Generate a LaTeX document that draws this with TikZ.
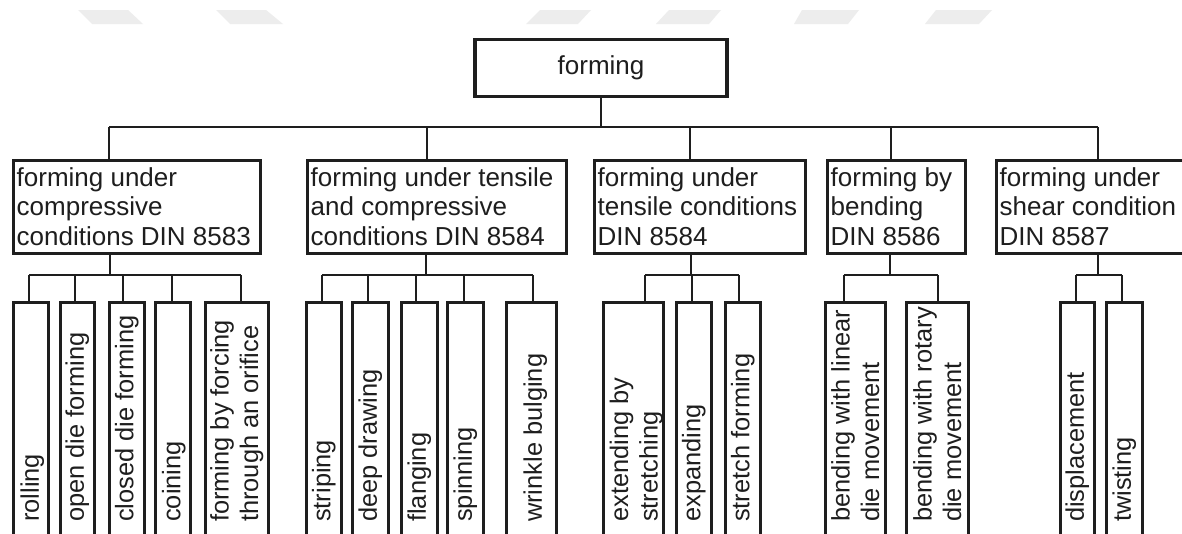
\documentclass[tikz,border=0pt]{standalone}
\usepackage{fontspec}
\setmainfont{Liberation Sans}
\usetikzlibrary{calc}
\definecolor{ink}{HTML}{1E1E1E}
\definecolor{wm}{HTML}{EDEDED}
\begin{document}
\begin{tikzpicture}[x=1pt,y=-1pt,
  box/.style={draw=ink,line width=3.7pt,inner sep=0pt,fill=white},
  conn/.style={draw=ink,line width=2.3pt},
  txt/.style={inner sep=0pt,align=left,font=\fontsize{26}{29.5}\selectfont,text=ink},
  midbox/.style={box,anchor=north west,minimum height=93pt},
  midtxt/.style={txt,anchor=north west},
  lbox/.style={box,anchor=north west,minimum height=250pt},
  ltxt/.style={txt,font=\fontsize{25.4}{29.5}\selectfont,rotate=90,anchor=west},
]
\useasboundingbox (0,0) rectangle (1182,533);
\clip (0,0) rectangle (1182,533);
\fill[white] (0,0) rectangle (1182,533);

% faint watermark shapes
\fill[wm] (78,10) -- (128,10) -- (143,24) -- (92,24) -- cycle;
\fill[wm] (216,10) -- (266,10) -- (283,24) -- (230,24) -- cycle;
\fill[wm] (540,10) -- (591,10) -- (578,24) -- (526,24) -- cycle;
\fill[wm] (669,10) -- (721,10) -- (709,24) -- (656,24) -- cycle;
\fill[wm] (802,10) -- (859,10) -- (848,24) -- (794,24) -- cycle;
\fill[wm] (936,10) -- (992,10) -- (979,24) -- (925,24) -- cycle;

% root
\node[box,minimum width=252pt,minimum height=57pt,font=\fontsize{26}{29.5}\selectfont,text=ink] (top) at (601,68) {forming};

% level 2 boxes
\node[midbox,minimum width=247pt] (b1) at (11.5,158.5) {};
\node[midbox,minimum width=259pt] (b2) at (305.5,158.5) {};
\node[midbox,minimum width=211pt] (b3) at (592.5,158.5) {};
\node[midbox,minimum width=138pt] (b4) at (825.5,158.5) {};
\node[midbox,minimum width=220pt] (b5) at (994.5,158.5) {};

\node[midtxt] (t1) at ($(b1.north west)+(5,8.5)$) {forming under\\compressive\\conditions DIN 8583};
\node[midtxt] (t2) at ($(b2.north west)+(5,8.5)$) {forming under tensile\\and compressive\\conditions DIN 8584};
\node[midtxt] (t3) at ($(b3.north west)+(5,8.5)$) {forming under\\tensile conditions\\DIN 8584};
\node[midtxt] (t4) at ($(b4.north west)+(5,8.5)$) {forming by\\bending\\DIN 8586};
\node[midtxt] (t5) at ($(b5.north west)+(5,8.5)$) {forming under\\shear condition\\DIN 8587};

% leaves
\node[lbox,minimum width=35pt] (l11) at (11.5,300.5) {};
\node[lbox,minimum width=34pt] (l12) at (58.5,300.5) {};
\node[lbox,minimum width=35pt] (l13) at (107.5,300.5) {};
\node[lbox,minimum width=35pt] (l14) at (153.5,300.5) {};
\node[lbox,minimum width=63pt] (l15) at (203.5,300.5) {};
\node[lbox,minimum width=35pt] (l21) at (304.5,300.5) {};
\node[lbox,minimum width=36pt] (l22) at (350.5,300.5) {};
\node[lbox,minimum width=36pt] (l23) at (399.5,300.5) {};
\node[lbox,minimum width=36pt] (l24) at (445.5,300.5) {};
\node[lbox,minimum width=50pt] (l25) at (504.5,300.5) {};
\node[lbox,minimum width=60pt] (l31) at (601.5,300.5) {};
\node[lbox,minimum width=35pt] (l32) at (674.5,300.5) {};
\node[lbox,minimum width=35pt] (l33) at (723.5,300.5) {};
\node[lbox,minimum width=60pt] (l41) at (823.5,300.5) {};
\node[lbox,minimum width=62pt] (l42) at (904.5,300.5) {};
\node[lbox,minimum width=34pt] (l51) at (1058.5,300.5) {};
\node[lbox,minimum width=36pt] (l52) at (1104.5,300.5) {};

\node[ltxt] (s11) at ($(l11.north)+(1.5,221.5)$) {rolling};
\node[ltxt] (s12) at ($(l12.north)+(0,221.5)$) {open die forming};
\node[ltxt] (s13) at ($(l13.north)+(0,221.5)$) {closed die forming};
\node[ltxt] (s14) at ($(l14.north)+(1,221.5)$) {coining};
\node[ltxt] (s15) at ($(l15.north)+(0,221.5)$) {forming by forcing\\through an orifice};
\node[ltxt] (s21) at ($(l21.north)+(0,221.5)$) {striping};
\node[ltxt] (s22) at ($(l22.north)+(0,221.5)$) {deep drawing};
\node[ltxt] (s23) at ($(l23.north)+(0,221.5)$) {flanging};
\node[ltxt] (s24) at ($(l24.north)+(0,221.5)$) {spinning};
\node[ltxt] (s25) at ($(l25.north)+(4,221.5)$) {wrinkle bulging};
\node[ltxt] (s31) at ($(l31.north)+(3,221.5)$) {extending by\\stretching};
\node[ltxt] (s32) at ($(l32.north)+(0,221.5)$) {expanding};
\node[ltxt] (s33) at ($(l33.north)+(0,221.5)$) {stretch forming};
\node[ltxt] (s41) at ($(l41.north)+(0,221.5)$) {bending with linear\\die movement};
\node[ltxt] (s42) at ($(l42.north)+(0,221.5)$) {bending with rotary\\die movement};
\node[ltxt] (s51) at ($(l51.north)+(0,221.5)$) {displacement};
\node[ltxt] (s52) at ($(l52.north)+(0,221.5)$) {twisting};

% level 1 connectors
\coordinate (j0) at (601,127);
\coordinate (u1) at (109,127);
\coordinate (u2) at (427,127);
\coordinate (u3) at (690,127);
\coordinate (u4) at (891,127);
\coordinate (u5) at (1098,127);
\draw[conn] (top.south) -- (j0);
\draw[conn] (u1) -- (u5);
\foreach \i in {1,...,5} {\draw[conn] (u\i) -- (u\i |- b\i.north);}

% level 2 connectors
\coordinate (d1) at (110,275);
\coordinate (d2) at (426,275);
\coordinate (d3) at (691,275);
\coordinate (d4) at (890,275);
\coordinate (d5) at (1098,275);
\foreach \i in {1,...,5} {\draw[conn] (d\i |- b\i.south) -- (d\i);}

\coordinate (c11) at (29,275);
\coordinate (c12) at (75,275);
\coordinate (c13) at (123,275);
\coordinate (c14) at (172,275);
\coordinate (c15) at (241,275);
\coordinate (c21) at (322,275);
\coordinate (c22) at (368,275);
\coordinate (c23) at (416,275);
\coordinate (c24) at (464,275);
\coordinate (c25) at (533,275);
\coordinate (c31) at (645,275);
\coordinate (c32) at (692,275);
\coordinate (c33) at (739,275);
\coordinate (c41) at (844,275);
\coordinate (c42) at (938,275);
\coordinate (c51) at (1076,275);
\coordinate (c52) at (1122,275);

\draw[conn] (c11) -- (c15);
\draw[conn] (c21) -- (c25);
\draw[conn] (c31) -- (c33);
\draw[conn] (c41) -- (c42);
\draw[conn] (c51) -- (c52);
\foreach \i/\j in {1/1,1/2,1/3,1/4,1/5,2/1,2/2,2/3,2/4,2/5,3/1,3/2,3/3,4/1,4/2,5/1,5/2}
  {\draw[conn] (c\i\j) -- (c\i\j |- l\i\j.north);}
\end{tikzpicture}
\end{document}
